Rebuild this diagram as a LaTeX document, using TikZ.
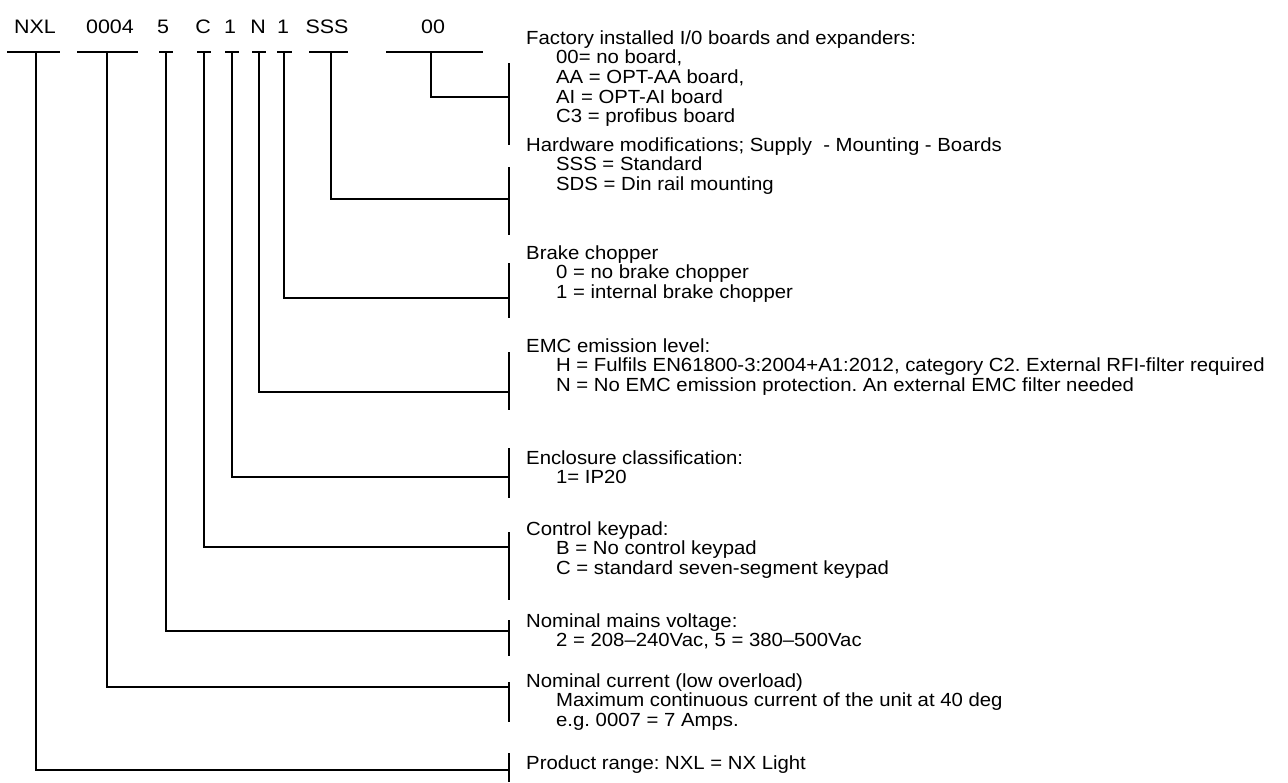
\documentclass[tikz,border=0pt]{standalone}
\usepackage{graphicx}
\usepackage{fontspec}
\setmainfont{Liberation Sans}
\frenchspacing

\newcommand*{\bx}{509}
\newcommand*{\barY}{52}
\newcommand*{\ind}{\hspace*{28pt}}
\newcommand*{\block}[1]{\scalebox{1.07}[1]{\begin{tabular}[t]{@{}l@{}}#1\end{tabular}}}
\newcommand*{\wide}[1]{\scalebox{1.1}[1]{#1}}

\begin{document}
\begin{tikzpicture}
[
	x=1pt,
	y=-1pt,
	code/.style={anchor=base,inner sep=0pt,font=\fontsize{19.5}{20}\selectfont},
	desc/.style={anchor=base west,inner sep=0pt,font=\fontsize{19}{19.7}\selectfont},
	wire/.style={line width=2.6pt}
]

	\useasboundingbox (0,0) rectangle (1288,782);

	% type code
	\node[code] at (35,33) (cNXL) {\wide{NXL}};
	\node[code] at (110,33) (cAmp) {\wide{0004}};
	\node[code] at (163,33) (cVolt) {\wide{5}};
	\node[code] at (203,33) (cKey) {\wide{C}};
	\node[code] at (230,33) (cEnc) {\wide{1}};
	\node[code] at (258,33) (cEmc) {\wide{N}};
	\node[code] at (283,33) (cBrk) {\wide{1}};
	\node[code] at (327,33) (cHw) {\wide{SSS}};
	\node[code] at (433,33) (cOpt) {\wide{00}};

	% bars under the code
	\draw[wire] (7,\barY) -- (60,\barY);
	\draw[wire] (77,\barY) -- (138,\barY);
	\draw[wire] (159,\barY) -- (173,\barY);
	\draw[wire] (197,\barY) -- (211,\barY);
	\draw[wire] (225,\barY) -- (239,\barY);
	\draw[wire] (252,\barY) -- (266,\barY);
	\draw[wire] (277,\barY) -- (292,\barY);
	\draw[wire] (309,\barY) -- (348,\barY);
	\draw[wire] (386,\barY) -- (483,\barY);

	\coordinate (sNXL) at (36,\barY);
	\coordinate (sAmp) at (107,\barY);
	\coordinate (sVolt) at (166,\barY);
	\coordinate (sKey) at (204,\barY);
	\coordinate (sEnc) at (232,\barY);
	\coordinate (sEmc) at (259,\barY);
	\coordinate (sBrk) at (284,\barY);
	\coordinate (sHw) at (331,\barY);
	\coordinate (sOpt) at (431,\barY);

	% descriptions
	\node[desc] at (526,44) (dOpt) {\block{Factory installed I/0 boards and expanders:\\
		\ind 00= no board,\\
		\ind AA = OPT-AA board,\\
		\ind AI = OPT-AI board\\
		\ind C3 = profibus board}};
	\node[desc] at (526,151) (dHw) {\block{Hardware modifications; Supply \ - Mounting - Boards\\
		\ind SSS = Standard\\
		\ind SDS = Din rail mounting}};
	\node[desc] at (526,259) (dBrk) {\block{Brake chopper\\
		\ind 0 = no brake chopper\\
		\ind 1 = internal brake chopper}};
	\node[desc] at (526,352) (dEmc) {\block{EMC emission level:\\
		\ind H = Fulfils EN61800-3:2004+A1:2012, category C2. External RFI-filter required\\
		\ind N = No EMC emission protection. An external EMC filter needed}};
	\node[desc] at (526,464) (dEnc) {\block{Enclosure classification:\\
		\ind 1= IP20}};
	\node[desc] at (526,535) (dKey) {\block{Control keypad:\\
		\ind B = No control keypad\\
		\ind C = standard seven-segment keypad}};
	\node[desc] at (526,627) (dVolt) {\block{Nominal mains voltage:\\
		\ind 2 = 208--240Vac, 5 = 380--500Vac}};
	\node[desc] at (526,687) (dAmp) {\block{Nominal current (low overload)\\
		\ind Maximum continuous current of the unit at 40 deg\\
		\ind e.g. 0007 = 7 Amps.}};
	\node[desc] at (526,769) (dNXL) {\block{Product range: NXL = NX Light}};

	% brackets
	\draw[wire] (\bx,63) -- (\bx,145);
	\draw[wire] (\bx,167) -- (\bx,235);
	\draw[wire] (\bx,263) -- (\bx,318);
	\draw[wire] (\bx,352) -- (\bx,410);
	\draw[wire] (\bx,448) -- (\bx,498);
	\draw[wire] (\bx,532) -- (\bx,600);
	\draw[wire] (\bx,620) -- (\bx,656);
	\draw[wire] (\bx,682) -- (\bx,722);
	\draw[wire] (\bx,753) -- (\bx,782);

	\coordinate (bOpt) at (\bx,97);
	\coordinate (bHw) at (\bx,199);
	\coordinate (bBrk) at (\bx,298);
	\coordinate (bEmc) at (\bx,392);
	\coordinate (bEnc) at (\bx,477);
	\coordinate (bKey) at (\bx,547);
	\coordinate (bVolt) at (\bx,631);
	\coordinate (bAmp) at (\bx,687);
	\coordinate (bNXL) at (\bx,770);

	% leaders
	\draw[wire] (sOpt) |- (bOpt);
	\draw[wire] (sHw) |- (bHw);
	\draw[wire] (sBrk) |- (bBrk);
	\draw[wire] (sEmc) |- (bEmc);
	\draw[wire] (sEnc) |- (bEnc);
	\draw[wire] (sKey) |- (bKey);
	\draw[wire] (sVolt) |- (bVolt);
	\draw[wire] (sAmp) |- (bAmp);
	\draw[wire] (sNXL) |- (bNXL);

\end{tikzpicture}
\end{document}
